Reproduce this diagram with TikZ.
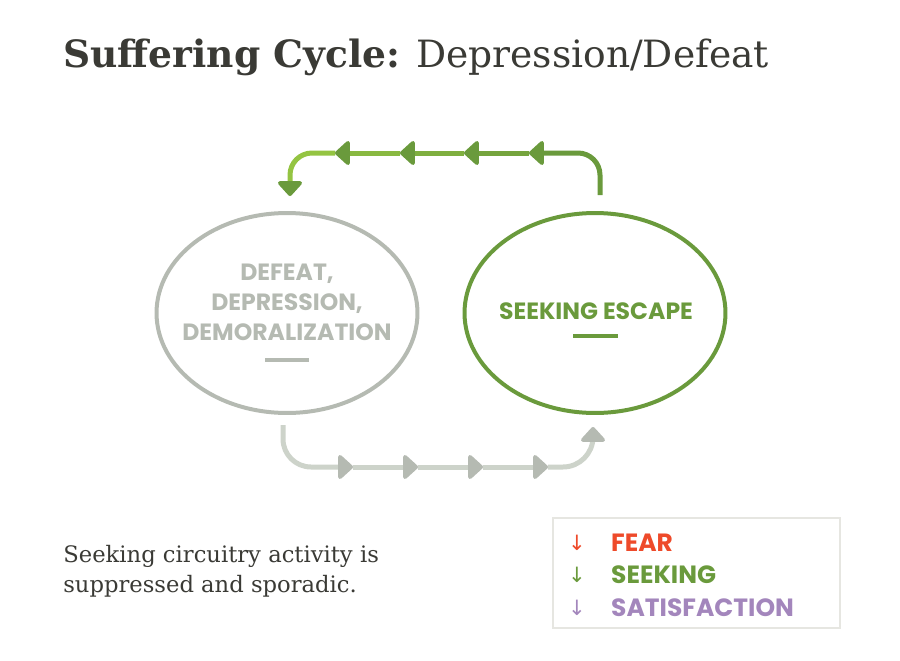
\documentclass[tikz,border=0pt]{standalone}
\usepackage{fontspec}
\setmainfont{DejaVu Serif}
\newfontfamily\capsfont{Poppins}
\newfontfamily\symbfont{DejaVu Sans}
\usepackage{xcolor}
\definecolor{ink}        {HTML}{3A3A35}
\definecolor{seekGreen}  {HTML}{6A9A3C}
\definecolor{leafGreen}  {HTML}{94C442}
\definecolor{defeatGray} {HTML}{B5BAB2}
\definecolor{paleGray}   {HTML}{CDD3CA}
\definecolor{fearRed}    {HTML}{EE4A2A}
\definecolor{satPurple}  {HTML}{A386BC}
\definecolor{boxLine}    {HTML}{E6E6E1}
\usetikzlibrary{arrows.meta, positioning, calc, shapes.geometric}
\tikzset{
    cycnode/.style={ellipse, draw, minimum width=5.22cm, minimum height=4.0cm,
                    inner sep=0pt, line width=0.08cm},
    cyctext/.style={font=\capsfont\bfseries\fontsize{13.4}{17}\selectfont,
                    align=center},
    dashmark/.style={line width=0.08cm},
    pipe/.style={line width=0.1cm},
    headl/.style={-{Triangle[length=0.32cm, width=0.56cm, round, color=#1]}},
    legtext/.style={font=\capsfont\bfseries\fontsize{14.2}{16}\selectfont, anchor=west},
    legarrow/.style={font=\symbfont\fontsize{12}{14}\selectfont},
}
\begin{document}
\begin{tikzpicture}[x=0.02cm, y=-0.02cm]
\useasboundingbox (0,0) rectangle (900,660);

% --- title ---
\node[anchor=base west, inner sep=0pt, text=ink,
      font=\fontsize{21.4}{26}\selectfont] (title) at (63,67)
    {\textbf{Suffering Cycle:} Depression/Defeat};

% --- the two states ---
\node[cycnode, draw=defeatGray] (defeat) at (287,313) {};
\node[cyctext, text=defeatGray] (defeatText) at (287,302)
    {DEFEAT,\\DEPRESSION,\\DEMORALIZATION};
\draw[dashmark, defeatGray] ($(defeat.center)+(-22,47)$) -- ++(44,0);

\node[cycnode, draw=seekGreen] (escape) at (595,313) {};
\node[cyctext, text=seekGreen] (escapeText) at (596,311) {SEEKING ESCAPE};
\draw[dashmark, seekGreen] ($(escape.center)+(-22,23)$) -- ++(45,0);

% --- top return arrow: escape -> defeat ---
\coordinate (topStart) at (600,195);
\coordinate (t1) at (529,153);
\coordinate (t2) at (464,153);
\coordinate (t3) at (400,153);
\coordinate (t4) at (335,153);
\coordinate (topEnd) at (290,196);
\draw[pipe, seekGreen, rounded corners=0.44cm, headl=seekGreen] (topStart) |- (t1);
\draw[pipe, leafGreen!25!seekGreen, headl=seekGreen] (t1) -- (t2);
\draw[pipe, leafGreen!50!seekGreen, headl=seekGreen] (t2) -- (t3);
\draw[pipe, leafGreen!75!seekGreen, headl=seekGreen] (t3) -- (t4);
\draw[pipe, leafGreen, rounded corners=0.44cm, headl=seekGreen] (t4) -| (topEnd);

% --- bottom arrow: defeat -> escape ---
\coordinate (botStart) at (283,425);
\coordinate (b1) at (353,467);
\coordinate (b2) at (418,467);
\coordinate (b3) at (483,467);
\coordinate (b4) at (548,467);
\coordinate (botEnd) at (593,427);
\draw[pipe, paleGray, rounded corners=0.56cm, headl=defeatGray] (botStart) |- (b1);
\draw[pipe, paleGray, headl=defeatGray] (b1) -- (b2);
\draw[pipe, paleGray, headl=defeatGray] (b2) -- (b3);
\draw[pipe, paleGray, headl=defeatGray] (b3) -- (b4);
\draw[pipe, paleGray, rounded corners=0.6cm, headl=defeatGray] (b4) -| (botEnd);

% --- note ---
\node[anchor=base west, inner sep=0pt, text=ink, align=left,
      font=\fontsize{12.9}{17}\selectfont] (note) at (63,592)
    {Seeking circuitry activity is\\suppressed and sporadic.};

% --- legend ---
\node[draw=boxLine, line width=1.2pt, minimum width=5.74cm,
      minimum height=2.2cm] (legend) at (696.5,573) {};
\node[legarrow, text=fearRed] (fearArrow) at (577,543) {↓};
\node[legtext, text=fearRed] (fearLabel) at (605,543) {FEAR};
\node[legarrow, text=seekGreen] (seekArrow) at (577,575) {↓};
\node[legtext, text=seekGreen] (seekLabel) at (605,575) {SEEKING};
\node[legarrow, text=satPurple] (satArrow) at (577,608) {↓};
\node[legtext, text=satPurple] (satLabel) at (605,608) {SATISFACTION};
\end{tikzpicture}
\end{document}
